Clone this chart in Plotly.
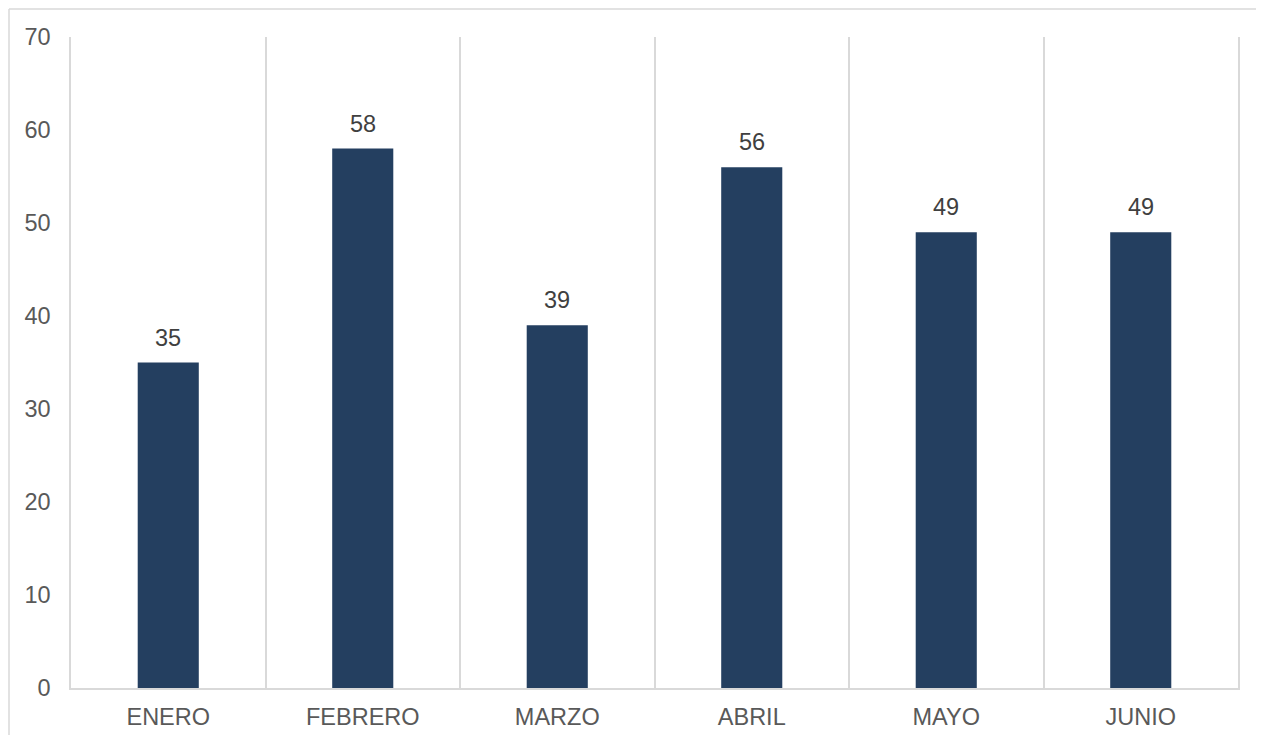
import plotly.graph_objects as go

months = ['ENERO', 'FEBRERO', 'MARZO', 'ABRIL', 'MAYO', 'JUNIO']
values = [35, 58, 39, 56, 49, 49]
y_ticks = [0, 10, 20, 30, 40, 50, 60, 70]

BAR_COLOR = '#243f60'
GRID_COLOR = '#d9d9d9'
FONT = 'Liberation Sans, Arial, sans-serif'

fig = go.Figure()

fig.add_trace(go.Bar(
    x=months,
    y=values,
    width=0.314,
    marker=dict(color=BAR_COLOR, line_width=0),
    hovertemplate='%{x}: %{y}<extra></extra>',
))

# data labels above the bars
for m, v in zip(months, values):
    fig.add_annotation(
        x=m, y=v, text=str(v), showarrow=False,
        yanchor='bottom', yshift=10,
        font=dict(family=FONT, size=23.5, color='#404040'),
    )

# outer chart border: only the top and left edges are inside the picture
left = (1 - 63) / 1167
top = (680 - 1) / 651
fig.add_shape(type='line', xref='paper', yref='paper',
              x0=left, x1=1.1, y0=top, y1=top,
              line=dict(color=GRID_COLOR, width=1.5))
fig.add_shape(type='line', xref='paper', yref='paper',
              x0=left, x1=left, y0=-0.2, y1=top,
              line=dict(color=GRID_COLOR, width=1.5))

# page body has an 8px margin, so the figure is sized to fit inside it
fig.update_layout(
    width=1256, height=727,
    margin=dict(l=63, r=26, t=29, b=47),
    paper_bgcolor='white', plot_bgcolor='white',
    showlegend=False,
    font=dict(family=FONT, size=23.5, color='#595959'),
    xaxis=dict(
        type='category',
        range=[-0.5, 5.5],
        tickson='boundaries',
        automargin=False,
        showgrid=True, gridcolor=GRID_COLOR, gridwidth=1.5,
        showline=True, linecolor=GRID_COLOR, linewidth=1.5,
        ticks='', ticklabelstandoff=7,
        tickfont=dict(size=23.5, color='#595959'),
    ),
    yaxis=dict(
        range=[0, 70],
        tickvals=y_ticks,
        automargin=False,
        showgrid=False, zeroline=False,
        showline=True, mirror=True, linecolor=GRID_COLOR, linewidth=1.5,
        ticks='', ticklabelstandoff=14,
        tickfont=dict(size=23.5, color='#595959'),
    ),
)

fig.write_html('out.html')
